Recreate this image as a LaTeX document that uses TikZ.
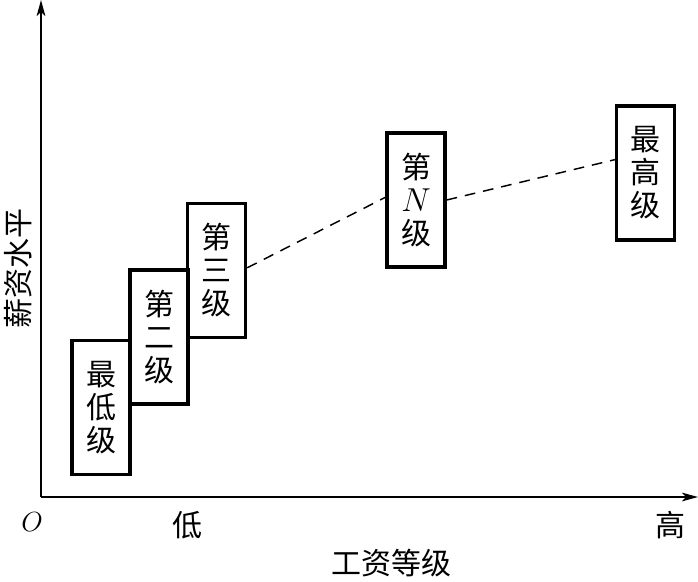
\documentclass[tikz,border=0pt]{standalone}
\usepackage{fontspec}
\newfontfamily\cjk{Noto Sans CJK SC}
\usetikzlibrary{arrows.meta}
\tikzset{
  lvl/.style={draw, line width=2.5pt, minimum width=43.5pt, minimum height=100.5pt,
    inner sep=0pt, align=center, font=\cjk\fontsize{22.5}{24.75}\selectfont},
  axis/.style={line width=1.3pt, -{Stealth[length=12pt, width=6.5pt, inset=3pt]}},
  conn/.style={dashed, line width=1.1pt, dash pattern=on 8pt off 6pt},
  lab/.style={inner sep=0pt, font=\cjk\fontsize{22.5}{24}\selectfont}
}
\begin{document}
\begin{tikzpicture}[x=0.75pt, y=-0.75pt]
\useasboundingbox (0,0) rectangle (698,581);
\coordinate (o) at (41,497);
\coordinate (ytip) at (41,0);
\coordinate (xtip) at (698,497);
\draw[axis] (o) -- (ytip);
\draw[axis] (o) -- (xtip);
\node[lvl] (lo) at (101,407.5) {最\\低\\级};
\node[lvl] (two) at (159,337) {第\\二\\级};
\node[lvl] (three) at (216.5,270.5) {第\\三\\级};
\node[lvl] (n) at (416,200) {第\\{\fontsize{25}{24.75}\selectfont$N$}\\级};
\node[lvl] (top) at (645.5,173) {最\\高\\级};
\coordinate (topin) at ([yshift=10pt]top.west);
\draw[conn] ([yshift=2pt]three.east) -- ([yshift=2pt]n.west);
\draw[conn] ([yshift=0pt]n.east) -- (topin);
\node[inner sep=0pt, font=\fontsize{21}{24}\selectfont] (O) at (32,522) {$O$};
\node[lab] (low) at (187,525) {低};
\node[lab] (high) at (670,525) {高};
\node[lab] (xl) at (391,563) {工资等级};
\node[lab, rotate=90] (yl) at (18,268) {薪资水平};
\end{tikzpicture}
\end{document}
